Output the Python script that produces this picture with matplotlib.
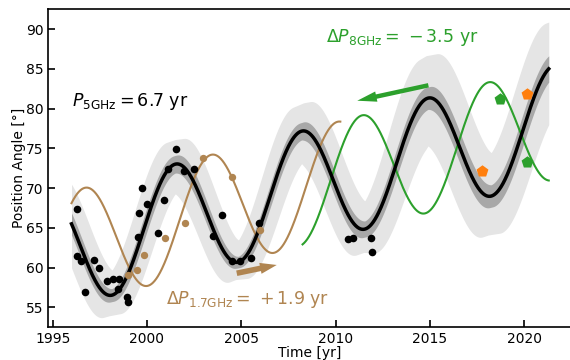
import numpy as np
import matplotlib
matplotlib.use("Agg")
import matplotlib.pyplot as plt
from matplotlib.patches import FancyArrowPatch

# ---- model parameters ----
PERIOD = 6.7          # yr (P_5GHz)
T_REF = 2001.5        # epoch of a maximum
PA_REF = 65.8         # trend value at T_REF
SLOPE = 0.62          # deg / yr
AMP = 7.2             # deg
DP_17 = 1.9           # yr shift, 1.7 GHz
DP_8 = -3.5           # yr shift, 8 GHz
T_START, T_END = 1996.0, 2021.3
T_17 = (1996.0, 2010.25)
T_8 = (2008.25, 2021.3)

# uncertainty band half-widths (deg) at knot years
BAND_T = [1996.0, 1998.0, 2001.5, 2004.7, 2008.3, 2011.5, 2014.8, 2018.1, 2021.3]
LIGHT_S = [2.6, 2.5, 3.1, 2.1, 3.5, 2.9, 5.4, 4.8, 5.6]
DARK_S = [0.9, 0.8, 1.1, 0.7, 1.1, 1.0, 1.4, 1.4, 1.5]
LIGHT_D = 0.45  # phase spread (yr)
DARK_D = 0.08

# ---- observed data ----
t_5 = [1996.29, 1996.29, 1996.48, 1996.70, 1997.17, 1997.45, 1997.90, 1998.20,
       1998.50, 1998.48, 1998.94, 1998.99, 1999.52, 1999.56, 1999.76, 2000.00,
       2000.58, 2000.90, 2001.14, 2001.55, 2001.94, 2002.50, 2003.52, 2003.96,
       2004.52, 2004.93, 2005.51, 2005.92, 2010.67, 2010.94, 2011.89, 2011.95]
pa_5 = [67.36, 61.45, 60.78, 56.90, 60.90, 59.94, 58.30, 58.50,
        58.56, 57.30, 56.26, 55.63, 63.80, 66.80, 69.97, 68.00,
        64.30, 68.50, 72.40, 74.90, 72.10, 72.45, 63.97, 66.65,
        60.79, 60.79, 61.24, 65.64, 63.55, 63.76, 63.76, 61.96]
t_17 = [1998.97, 1999.49, 1999.82, 2000.95, 2002.00, 2002.99, 2004.52, 2006.01]
pa_17 = [59.10, 59.69, 61.54, 63.72, 65.54, 73.74, 71.35, 64.72]
t_8 = [2018.72, 2020.17]
pa_8 = [81.24, 73.24]
t_or = [2017.78, 2020.17]
pa_or = [72.18, 81.83]


def model(t, shift=0.0):
    t = np.asarray(t)
    return PA_REF + SLOPE * (t - T_REF) + AMP * np.cos(2 * np.pi * (t - T_REF - shift) / PERIOD)


BROWN = '#b08551'
GREEN = '#2ca02c'
ORANGE = '#ff7f0e'

fig = plt.figure(figsize=(5.7, 3.6), dpi=100)
ax = fig.add_axes([48.3 / 570, 1 - 327.3 / 360, (571 - 48.3) / 570, (327.3 - 9.3) / 360])

tt = np.linspace(T_START, T_END, 1200)
f = model(tt)


def band(d, s_knots):
    dd = np.linspace(-d, d, 41)
    vals = model(tt[:, None] + dd[None, :]) - SLOPE * dd[None, :]
    s = np.interp(tt, BAND_T, s_knots)
    return vals.min(axis=1) - s, vals.max(axis=1) + s


lo, hi = band(LIGHT_D, LIGHT_S)
ax.fill_between(tt, lo, hi, color='#e5e5e5', lw=0, zorder=1)
lo, hi = band(DARK_D, DARK_S)
ax.fill_between(tt, lo, hi, color='#a8a8a8', lw=0, zorder=2)

t1 = np.linspace(*T_17, 800)
ax.plot(t1, model(t1, DP_17), color=BROWN, lw=1.5, zorder=3)
t2 = np.linspace(*T_8, 800)
ax.plot(t2, model(t2, DP_8), color=GREEN, lw=1.5, zorder=3)
ax.plot(tt, f, color='black', lw=2.5, zorder=4)

ax.scatter(t_5, pa_5, s=30, color='black', zorder=5, lw=0)
ax.scatter(t_17, pa_17, s=28, color=BROWN, zorder=5, lw=0)
ax.scatter(t_8, pa_8, s=80, marker='p', color=GREEN, zorder=5, lw=0)
ax.scatter(t_or, pa_or, s=80, marker='p', color=ORANGE, zorder=5, lw=0)

# arrows
ax.add_patch(FancyArrowPatch((2014.92, 82.92), (2011.15, 80.98),
                             arrowstyle='simple,head_width=7.5,head_length=14,tail_width=3.2',
                             mutation_scale=1, color=GREEN, lw=0, zorder=6,
                             shrinkA=0, shrinkB=0))
ax.add_patch(FancyArrowPatch((2004.76, 59.28), (2006.88, 60.32),
                             arrowstyle='simple,head_width=8,head_length=12,tail_width=4',
                             mutation_scale=1, color=BROWN, lw=0, zorder=6,
                             shrinkA=0, shrinkB=0))

ax.text(72 / 570, 1 - 101 / 360, r'$P_{\rm 5GHz} = 6.7$ yr', transform=fig.transFigure,
        fontsize=12.5, color='black', va='center', ha='left')
ax.text(326 / 570, 1 - 38 / 360, r'$\Delta P_{\rm 8GHz} =\ {-}\,3.5$ yr', transform=fig.transFigure,
        fontsize=12.5, color=GREEN, va='center', ha='left')
ax.text(166 / 570, 1 - 299 / 360, r'$\Delta P_{\rm 1.7GHz} =\ {+}\,1.9$ yr', transform=fig.transFigure,
        fontsize=12.5, color=BROWN, va='center', ha='left')

ax.set_xlim(1994.77, 2022.48)
ax.set_ylim(52.48, 92.48)
ax.set_xticks([1995, 2000, 2005, 2010, 2015, 2020])
ax.set_yticks([55, 60, 65, 70, 75, 80, 85, 90])
ax.tick_params(direction='in', length=5, width=1.2, labelsize=10)
ax.spines['right'].set_visible(False)
for sp in ['left', 'bottom', 'top']:
    ax.spines[sp].set_linewidth(1.2)
ax.set_xlabel('Time [yr]', fontsize=10, labelpad=0)
ax.set_ylabel('Position Angle [°]', fontsize=10, labelpad=0)

fig.savefig('out.png', dpi=100)
